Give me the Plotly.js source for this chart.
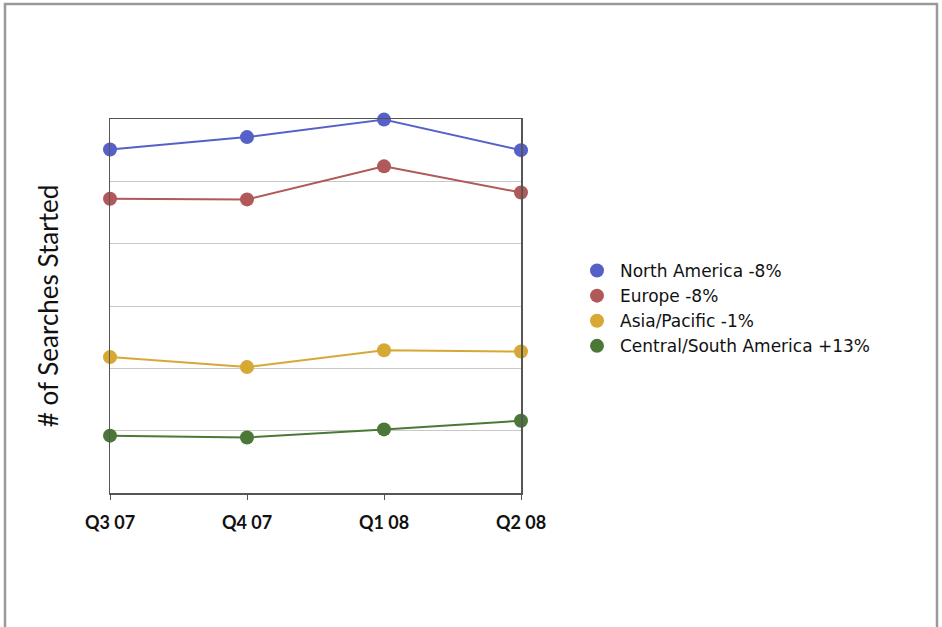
<!DOCTYPE html>
<html>
<head>
<meta charset="utf-8">
<script src="https://cdn.plot.ly/plotly-3.0.1.min.js"></script>
<style>html,body{margin:0;padding:0;background:#fff;}#chart{width:942px;height:627px;}</style>
</head>
<body>
<div id="chart"></div>
<script>
const quarters = ["Q3 07", "Q4 07", "Q1 08", "Q2 08"];
const seriesNames = ["North America -8%", "Europe -8%", "Asia/Pacific -1%", "Central/South America +13%"];
const northAmerica = [5.51, 5.71, 5.99, 5.50];
const europe = [4.72, 4.71, 5.24, 4.82];
const asiaPacific = [2.18, 2.02, 2.29, 2.27];
const centralSouthAmerica = [0.92, 0.89, 1.02, 1.16];
const colors = ["#5561c9", "#b0585a", "#d6a934", "#4b7836"];

const allSeries = [northAmerica, europe, asiaPacific, centralSouthAmerica];
const traces = [];
allSeries.forEach((vals, i) => {
  traces.push({
    x: quarters, y: vals, type: "scatter", mode: "lines",
    line: {color: colors[i], width: 2}, showlegend: false, hoverinfo: "skip", cliponaxis: false
  });
});
allSeries.forEach((vals, i) => {
  traces.push({
    x: quarters, y: vals, type: "scatter", mode: "markers", name: seriesNames[i],
    marker: {color: colors[i], size: 14}, cliponaxis: false
  });
});

const L = 110, R = 521, T = 119, B = 493;
const pw = R - L, ph = B - T;
const px = v => (v - L) / pw;
const py = v => (B - v) / ph;

const layout = {
  width: 942, height: 627,
  margin: {l: L, r: 942 - R, t: T, b: 627 - B, autoexpand: false},
  paper_bgcolor: "#fff", plot_bgcolor: "#fff",
  font: {family: "Lato, 'Open Sans', sans-serif", color: "#111"},
  xaxis: {
    type: "category", range: [0, 3], showline: true, linecolor: "#555", linewidth: 1.5, mirror: true,
    ticks: "outside", ticklen: 5, tickcolor: "#555", showgrid: false, zeroline: false,
    tickfont: {size: 18, family: "Lato, sans-serif", weight: "bold", color: "#111"},
    ticklabelstandoff: 8, fixedrange: true
  },
  yaxis: {
    range: [0, 6], dtick: 1, tick0: 0, showline: true, linecolor: "#555", linewidth: 1.5, mirror: true,
    showgrid: true, gridcolor: "#c8c8c8", gridwidth: 1, zeroline: false, showticklabels: false, ticks: "",
    title: {text: "# of Searches Started", font: {size: 26, family: "Lato, sans-serif", color: "#111"}, standoff: 42},
    fixedrange: true
  },
  legend: {
    x: px(574), y: py(253), xanchor: "left", yanchor: "top",
    font: {size: 17, family: "'DejaVu Sans', sans-serif", color: "#111"},
    itemwidth: 36,
    bgcolor: "rgba(0,0,0,0)", itemclick: false, itemdoubleclick: false
  },
  shapes: [
    {type: "rect", xref: "paper", yref: "paper", x0: px(5), x1: px(937), y0: py(640), y1: py(4),
     line: {color: "#9a9a9a", width: 2.5}, fillcolor: "rgba(0,0,0,0)", layer: "below"}
  ],
  showlegend: true
};

Plotly.newPlot("chart", traces, layout, {displayModeBar: false, staticPlot: true});
</script>
</body>
</html>
